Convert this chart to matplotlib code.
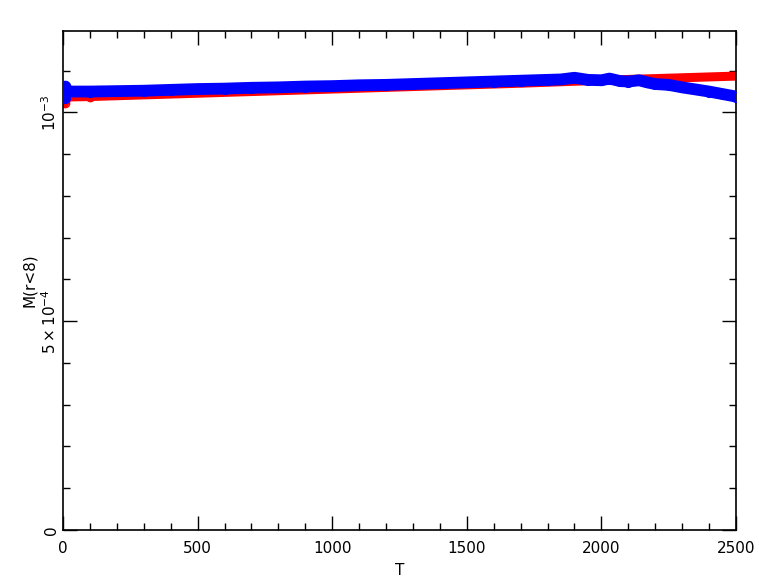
import numpy as np
import matplotlib.pyplot as plt
from matplotlib.ticker import MultipleLocator, FixedLocator

# red series (values in units of 1e-3)
t_red = [0, 3, 6, 10, 15, 100, 300, 500, 700, 1000, 1300, 1500, 1700, 2000, 2200, 2400, 2500]
m_red = [1.036, 1.030, 1.022, 1.034, 1.037, 1.038, 1.042, 1.046, 1.050, 1.056, 1.062, 1.066, 1.070, 1.077, 1.081, 1.085, 1.087]

# blue series (values in units of 1e-3)
t_blue = [0, 3, 6, 9, 12, 15, 100, 200, 300, 400, 500, 600, 700, 800, 900, 1000,
          1100, 1200, 1300, 1400, 1500, 1600, 1700, 1800, 1850, 1900, 1950, 2000,
          2030, 2070, 2100, 2140, 2170, 2200, 2250, 2300, 2350, 2400, 2450, 2500]
m_blue = [1.045, 1.060, 1.035, 1.062, 1.048, 1.050, 1.050, 1.051, 1.052, 1.054, 1.056, 1.057, 1.059, 1.060, 1.062, 1.063,
          1.065, 1.066, 1.068, 1.070, 1.072, 1.074, 1.076, 1.078, 1.079, 1.083, 1.078, 1.077,
          1.081, 1.075, 1.074, 1.077, 1.072, 1.068, 1.066, 1.060, 1.055, 1.050, 1.044, 1.038]

t_red = np.array(t_red)
m_red = np.array(m_red) * 1e-3
t_blue = np.array(t_blue)
m_blue = np.array(m_blue) * 1e-3

fig = plt.figure(figsize=(7.59, 5.84), dpi=100)
ax = fig.add_axes([63/759, 54/584, 673/759, 499/584])

ax.plot(t_red, m_red, color='red', lw=6.5, solid_capstyle='round', zorder=2)
ax.plot(t_red[:6], m_red[:6], 'o', mfc='none', mec='red', ms=6, mew=1, zorder=2)
ax.plot(t_blue, m_blue, color='blue', lw=8.5, solid_capstyle='round', zorder=3)
ax.plot(t_blue, m_blue, 'o', mfc='none', mec='blue', ms=7, mew=1, zorder=3)

ax.set_xlim(0, 2500)
ax.set_ylim(0, 1.195e-3)
ax.xaxis.set_major_locator(MultipleLocator(500))
ax.xaxis.set_minor_locator(MultipleLocator(100))
ax.yaxis.set_major_locator(FixedLocator([0, 5e-4, 1e-3]))
ax.yaxis.set_minor_locator(MultipleLocator(1e-4))
ax.set_yticklabels(['0', r'$5\times10^{-4}$', r'$10^{-3}$'], rotation=90, va='center')
ax.tick_params(which='both', direction='in', top=True, right=True, labelsize=11)
ax.tick_params(which='major', length=10, width=1)
ax.tick_params(which='minor', length=5, width=1)
ax.tick_params(axis='x', pad=8)
ax.tick_params(axis='y', pad=3)
for s in ax.spines.values():
    s.set_linewidth(1.2)

ax.set_xlabel('T', fontsize=11, labelpad=5)
ax.set_ylabel('M(r<8)', fontsize=11, labelpad=2)

fig.savefig('out.png', dpi=100)
